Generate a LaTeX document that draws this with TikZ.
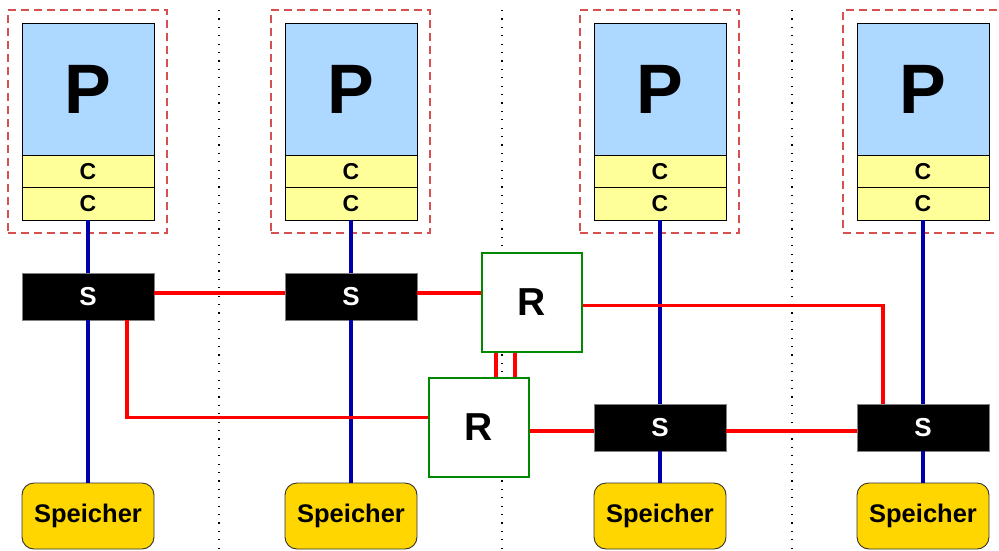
\documentclass[tikz,border=0pt]{standalone}
\usepackage{fontspec}
\setmainfont{Liberation Sans}
\definecolor{pblue}{RGB}{173,216,255}
\definecolor{cyell}{RGB}{255,255,153}
\definecolor{mgold}{RGB}{255,214,0}
\definecolor{dred}{RGB}{214,80,80}
\definecolor{busblue}{RGB}{0,0,170}
\definecolor{rgreen}{RGB}{0,136,0}
\tikzset{
  pbox/.style={draw=black, line width=0.9pt, fill=pblue, minimum width=132pt, minimum height=132pt, inner sep=0pt, font=\fontsize{70}{70}\selectfont\bfseries},
  cbox/.style={draw=black, line width=0.9pt, fill=cyell, minimum width=132pt, minimum height=32.5pt, inner sep=0pt, font=\fontsize{23}{23}\selectfont\bfseries},
  gbox/.style={draw=dred, line width=1.2pt, dash pattern=on 8pt off 5pt, minimum width=159pt, minimum height=223pt, inner sep=0pt},
  sbox/.style={draw=gray, line width=0.6pt, fill=black, text=white, minimum width=132pt, minimum height=47pt, inner sep=0pt, font=\fontsize{26}{26}\selectfont\bfseries},
  mbox/.style={draw=black!80, line width=0.9pt, fill=mgold, rounded corners=12pt, minimum width=132pt, minimum height=66pt, inner sep=0pt, font=\fontsize{25.5}{25.5}\selectfont\bfseries},
  rbox/.style={draw=rgreen, line width=2pt, fill=white, minimum width=100pt, minimum height=99pt, inner sep=0pt, font=\fontsize{39}{39}\selectfont\bfseries},
  bus/.style={draw=busblue, line width=3.5pt},
  link/.style={draw=red, line width=3.5pt},
  sep/.style={draw=black, line width=1.1pt, dash pattern=on 1.1pt off 7.3pt}
}
\begin{document}
\begin{tikzpicture}[x=1pt,y=-1pt]
\useasboundingbox (0,0) rectangle (999,550);
% separators
\coordinate (d1t) at (219,10); \coordinate (d1b) at (219,550);
\coordinate (d2t) at (502,10); \coordinate (d2b) at (502,550);
\coordinate (d3t) at (792,10); \coordinate (d3b) at (792,550);
\draw[sep] (d1t) -- (d1b);
\draw[sep] (d2t) -- (d2b);
\draw[sep] (d3t) -- (d3b);
% processor groups (dashed frames)
\node[gbox] (g1) at (87.5,121.5) {};
\node[gbox] (g2) at (350.5,121.5) {};
\node[gbox] (g3) at (659.5,121.5) {};
\node[gbox, minimum width=180pt] (g4) at (933,121.5) {};
\foreach \i/\x in {1/88,2/351,3/660,4/923}{
  \node[pbox] (p\i) at (\x,89) {P};
  \node[cbox] (ca\i) at (\x,171.25) {C};
  \node[cbox] (cb\i) at (\x,203.75) {C};
  \node[mbox] (m\i) at (\x,516) {Speicher};
}
% switches
\node[sbox] (s1) at (88,296.5) {S};
\node[sbox] (s2) at (351,296.5) {S};
\node[sbox] (s3) at (660,427.5) {S};
\node[sbox] (s4) at (923,427.5) {S};
% routers
\node[rbox] (r1) at (532,302.5) {R};
\node[rbox] (r2) at (479,427.5) {R};
% blue buses
\draw[bus] (cb1.south) -- (s1.north);
\draw[bus] (s1.south) -- (m1.north);
\draw[bus] (cb2.south) -- (s2.north);
\draw[bus] (s2.south) -- (m2.north);
\draw[bus] (cb3.south) -- (s3.north);
\draw[bus] (s3.south) -- (m3.north);
\draw[bus] (cb4.south) -- (s4.north);
\draw[bus] (s4.south) -- (m4.north);
% red links
\coordinate (ya) at (0,293);
\coordinate (yb) at (0,305.5);
\coordinate (yc) at (0,417.5);
\coordinate (yd) at (0,431);
\coordinate (xr) at (883,0);
\coordinate (xl) at (127,0);
\coordinate (xv1) at (496,0);
\coordinate (xv2) at (515,0);
\draw[link] (s1.east|-ya) -- (s2.west|-ya);
\draw[link] (s2.east|-ya) -- (r1.west|-ya);
\draw[link] (r1.east|-yb) -| (s4.north-|xr);
\draw[link] (s1.south-|xl) |- (r2.west|-yc);
\draw[link] (r2.east|-yd) -- (s3.west|-yd);
\draw[link] (s3.east|-yd) -- (s4.west|-yd);
\draw[link] (r1.south-|xv1) -- (r2.north-|xv1);
\draw[link] (r1.south-|xv2) -- (r2.north-|xv2);
% redraw routers' borders over link ends
\node[rbox, fill=none] at (r1) {};
\node[rbox, fill=none] at (r2) {};
\end{tikzpicture}
\end{document}
